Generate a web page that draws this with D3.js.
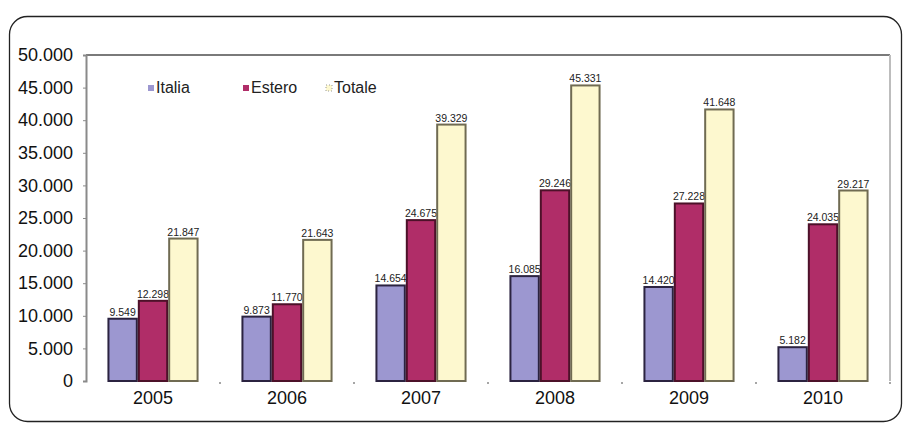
<!DOCTYPE html>
<html>
<head>
<meta charset="utf-8">
<script src="https://cdn.jsdelivr.net/npm/d3@7"></script>
<style>
  html, body { margin: 0; padding: 0; background: #fff; }
  svg { display: block; font-family: "Liberation Sans", Arial, sans-serif; }
</style>
</head>
<body>
<svg id="chart" width="903" height="424"></svg>
<script>
const years = ["2005", "2006", "2007", "2008", "2009", "2010"];
const seriesNames = ["Italia", "Estero", "Totale"];
const italia = [9549, 9873, 14654, 16085, 14420, 5182];
const estero = [12298, 11770, 24675, 29246, 27228, 24035];
const totale = [21847, 21643, 39329, 45331, 41648, 29217];
const yTicks = [0, 5000, 10000, 15000, 20000, 25000, 30000, 35000, 40000, 45000, 50000];

const fills = { Italia: "#9c97d0", Estero: "#b02d68", Totale: "#fdf8cf" };
const strokes = { Italia: "#2b2340", Estero: "#4c1129", Totale: "#706b52" };

const svg = d3.select("#chart");
const fmt = v => d3.format(",")(v).replace(/,/g, ".");
const FONT = "'Liberation Sans', Arial, sans-serif";

// outer frame
svg.append("rect").attr("x", 9.5).attr("y", 16.5).attr("width", 892).attr("height", 405)
  .attr("rx", 18).attr("fill", "#fff").attr("stroke", "#222").attr("stroke-width", 1.3);

const pLeft = 86, pRight = 890, pTop = 55, pBottom = 381;
const y = d3.scaleLinear().domain([0, 50000]).range([pBottom, pTop]);
const x0 = d3.scaleBand().domain(years).range([pLeft, pRight]).paddingInner(0.32).paddingOuter(0.16);
const x1 = d3.scaleBand().domain(seriesNames).range([0, x0.bandwidth()]).padding(0);

// plot frame lines
svg.append("line").attr("x1", pLeft).attr("x2", pRight).attr("y1", pTop).attr("y2", pTop)
  .attr("stroke", "#7a7a7a").attr("stroke-width", 2);
svg.append("line").attr("x1", pRight).attr("x2", pRight).attr("y1", pTop).attr("y2", pBottom)
  .attr("stroke", "#bdbdbd").attr("stroke-width", 2);

// y axis
const yAxis = d3.axisLeft(y).tickValues(yTicks).tickSize(3).tickPadding(10).tickFormat(fmt);
const gy = svg.append("g").attr("transform", `translate(${pLeft},0)`).call(yAxis);
gy.select(".domain").attr("stroke", "#8a8a8a").attr("stroke-width", 2);
gy.selectAll(".tick line").attr("stroke", "#8a8a8a");
gy.selectAll(".tick text").attr("font-size", 18).attr("fill", "#111").attr("font-family", FONT);

// x axis (labels + small separator ticks, no baseline)
const gx = svg.append("g").attr("transform", `translate(0,${pBottom})`)
  .call(d3.axisBottom(x0).tickSize(0).tickPadding(10));
gx.select(".domain").remove();
gx.selectAll(".tick text").attr("font-size", 18).attr("fill", "#111").attr("font-family", FONT);
years.forEach((yr, i) => {
  const xs = x0(yr) + x0.bandwidth() + x0.step() * x0.paddingInner() / 2;
  svg.append("line").attr("x1", xs).attr("x2", xs).attr("y1", pBottom + 1).attr("y2", pBottom + 3)
    .attr("stroke", "#888").attr("stroke-width", 1.5);
});

// bars
const seriesData = { Italia: italia, Estero: estero, Totale: totale };
seriesNames.forEach(s => {
  const g = svg.append("g");
  g.selectAll("rect").data(seriesData[s]).join("rect")
    .attr("x", (d, i) => x0(years[i]) + x1(s) + 1)
    .attr("y", d => y(d))
    .attr("width", x1.bandwidth() - 2)
    .attr("height", d => pBottom - y(d))
    .attr("fill", fills[s]).attr("stroke", strokes[s]).attr("stroke-width", 2);
  g.selectAll("text").data(seriesData[s]).join("text")
    .attr("x", (d, i) => x0(years[i]) + x1(s) + x1.bandwidth() / 2)
    .attr("y", d => y(d) - 3)
    .attr("text-anchor", "middle").attr("font-size", 10.5).attr("fill", "#222")
    .text(d => fmt(d));
});

// legend
const legendX = [148, 243, 326];
seriesNames.forEach((s, i) => {
  svg.append("rect").attr("x", legendX[i]).attr("y", 85).attr("width", 6).attr("height", 6)
    .attr("fill", fills[s]).attr("stroke", s === "Totale" ? "#999" : "none")
    .attr("stroke-dasharray", s === "Totale" ? "1,2" : null);
  svg.append("text").attr("x", legendX[i] + 8).attr("y", 93)
    .attr("font-size", 16).attr("fill", "#222").text(s);
});
</script>
</body>
</html>
